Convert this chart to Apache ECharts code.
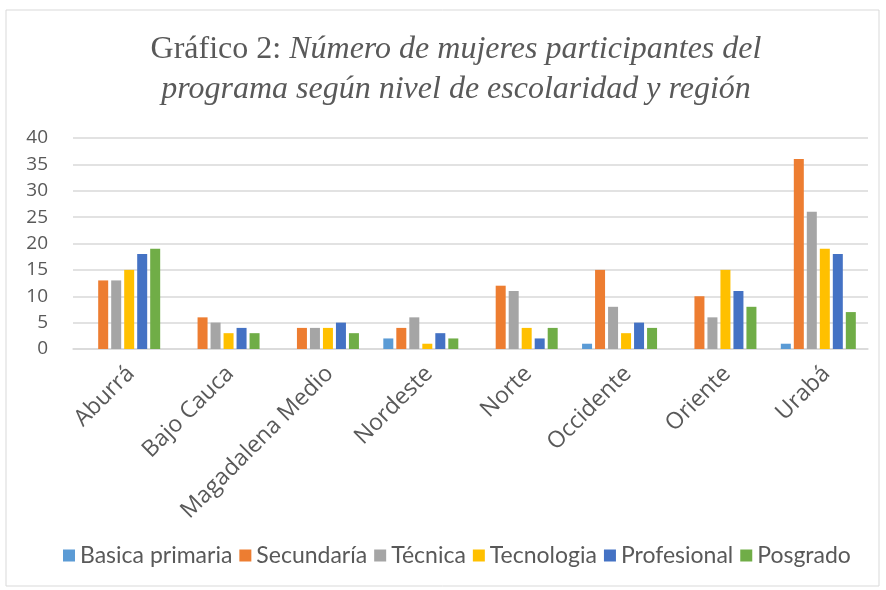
<!DOCTYPE html>
<html><head><meta charset="utf-8">
<script src="https://cdn.jsdelivr.net/npm/echarts@6/dist/echarts.min.js"></script>
<style>html,body{margin:0;padding:0;background:#fff}#c{width:886px;height:590px}</style>
</head><body><div id="c"></div>
<script>
const categories = ['Aburrá','Bajo Cauca','Magadalena Medio','Nordeste','Norte','Occidente','Oriente','Urabá'];
const basicaPrimaria = [0,0,0,2,0,1,0,1];
const secundaria = [13,6,4,4,12,15,10,36];
const tecnica = [13,5,4,6,11,8,6,26];
const tecnologia = [15,3,4,1,4,3,15,19];
const profesional = [18,4,5,3,2,5,11,18];
const posgrado = [19,3,3,2,4,4,8,7];
const seriesNames = ['Basica primaria','Secundaría','Técnica','Tecnologia','Profesional','Posgrado'];
const seriesData = [basicaPrimaria,secundaria,tecnica,tecnologia,profesional,posgrado];
const colors = ['#5B9BD5','#ED7D31','#A5A5A5','#FFC000','#4472C4','#70AD47'];
const yTicks = [0,5,10,15,20,25,30,35,40];

const chart = echarts.init(document.getElementById('c'));
chart.setOption({
  animation:false,
  color:colors,
  graphic:[{type:'rect',shape:{x:6,y:10,width:873,height:576},style:{fill:'none',stroke:'#d9d9d9',lineWidth:1}}],
  title:{
    text:'{n|Gráfico 2: }{i|Número de mujeres participantes del}\n{i|programa según nivel de escolaridad y región}',
    left:451,top:25,textAlign:'center',
    textStyle:{fontWeight:'normal',align:'center',rich:{
      n:{fontFamily:'Liberation Serif',fontSize:32,fontWeight:'normal',color:'#595959',lineHeight:40},
      i:{fontFamily:'Liberation Serif',fontSize:32,fontWeight:'normal',fontStyle:'italic',color:'#595959',lineHeight:40}
    }}
  },
  legend:{
    bottom:18,left:58,itemWidth:12,itemHeight:12,itemGap:7,icon:'rect',
    textStyle:{fontFamily:'Lato',fontSize:23,color:'#595959',padding:[0,0,0,0]},
    data:seriesNames
  },
  grid:{left:73,right:18,top:138,bottom:241,containLabel:false},
  xAxis:{
    type:'category',data:categories,
    axisLine:{lineStyle:{color:'#d9d9d9',width:1.5}},
    axisTick:{show:false},
    axisLabel:{rotate:45,fontFamily:'Open Sans',fontSize:23,color:'#595959',interval:0,margin:13,verticalAlign:'top'}
  },
  yAxis:{
    type:'value',min:yTicks[0],max:yTicks[yTicks.length-1],interval:5,
    axisLine:{show:false},axisTick:{show:false},
    axisLabel:{fontFamily:'Open Sans',fontSize:19,color:'#595959',margin:25},
    splitLine:{lineStyle:{color:'#d9d9d9',width:1.5}}
  },
  series:seriesData.map((d,i)=>({
    name:seriesNames[i],type:'bar',data:d,barWidth:10,barGap:'30%',
    itemStyle:{color:colors[i]}
  }))
});
</script></body></html>
